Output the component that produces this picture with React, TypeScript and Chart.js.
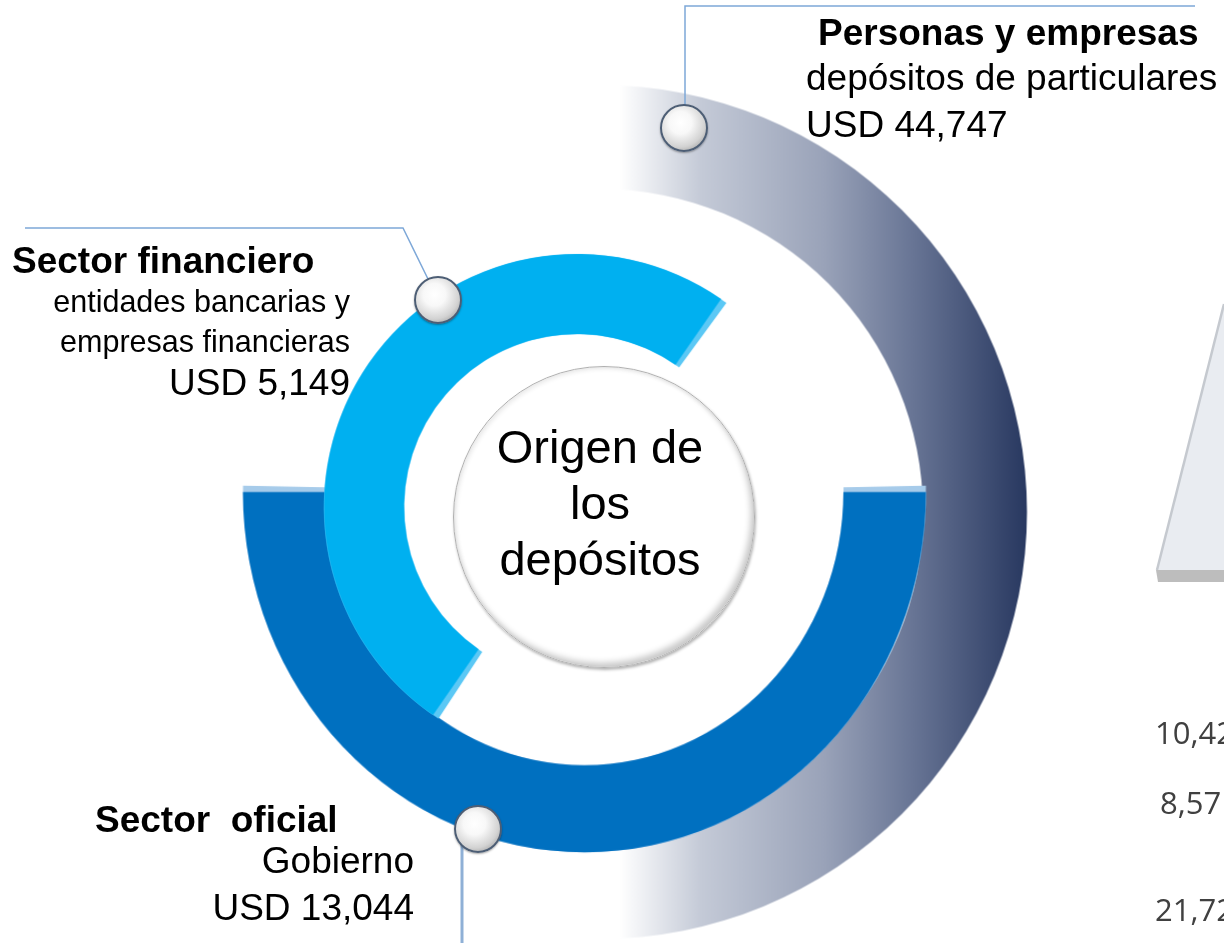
import React, { useEffect, useRef } from "react";
import { Chart, registerables } from "chart.js";

Chart.register(...registerables);

// ---------- data ----------
const sectorNames = ["Personas y empresas", "Sector financiero", "Sector  oficial"];
const sectorDescriptions = [
  ["depósitos de particulares"],
  ["entidades bancarias y", "empresas financieras"],
  ["Gobierno"],
];
const depositsUSD = [44747, 5149, 13044];
const centerTitle = ["Origen de", "los", "depósitos"];
const sideValues = ["10,42", "8,57", "21,72"];

const W = 1224;
const H = 943;

const fmtUSD = (v: number) => "USD " + v.toLocaleString("en-US");

type RingProps = {
  label: string;
  value: number;
  color: string | ((ctx: CanvasRenderingContext2D, ex: number) => CanvasGradient);
  cx: number;
  cy: number;
  rOut: number;
  rIn: number;
  sy: number;
  rotation: number;
  circumference: number;
  z: number;
};

function Ring(p: RingProps) {
  const ref = useRef<HTMLCanvasElement | null>(null);
  useEffect(() => {
    const canvas = ref.current!;
    const cutout = (p.rIn / p.rOut) * 100 + "%";
    const chart = new Chart(canvas, {
      type: "doughnut",
      data: {
        labels: [p.label],
        datasets: [
          {
            data: [p.value],
            backgroundColor: typeof p.color === "string" ? p.color : "#8890a8",
            borderWidth: 0,
            rotation: p.rotation,
            circumference: p.circumference,
            radius: p.rOut,
            cutout,
            clip: false,
          } as any,
        ],
      },
      options: {
        responsive: false,
        maintainAspectRatio: false,
        animation: false,
        devicePixelRatio: 1,
        events: [],
        rotation: p.rotation,
        circumference: p.circumference,
        radius: p.rOut,
        cutout,
        layout: { padding: 0 },
        plugins: { legend: { display: false }, tooltip: { enabled: false } },
      } as any,
    });
    const arc: any = chart.getDatasetMeta(0).data[0];
    const ex = arc.x;
    const ey = arc.y;
    canvas.style.transformOrigin = "0 0";
    canvas.style.transform = `translate(${p.cx - ex}px, ${p.cy - p.sy * ey}px) scale(1, ${p.sy})`;
    if (typeof p.color === "function") {
      (chart.data.datasets[0] as any).backgroundColor = p.color(chart.ctx, ex);
      chart.update();
    }
    return () => chart.destroy();
  }, []);
  return (
    <canvas
      ref={ref}
      width={W}
      height={H}
      style={{ position: "absolute", left: 0, top: 0, zIndex: p.z }}
    />
  );
}

type TextProps = {
  text: string;
  x: number;
  baseline: number;
  size: number;
  bold?: boolean;
  align: "left" | "right" | "center";
  font?: string;
  asc?: number;
  desc?: number;
  color?: string;
};

function Txt(t: TextProps) {
  const asc = t.asc ?? 0.905;
  const desc = t.desc ?? 0.212;
  const off = ((1 - (asc + desc)) / 2 + asc) * t.size;
  const style: any = {
    position: "absolute",
    top: t.baseline - off,
    fontSize: t.size,
    lineHeight: `${t.size}px`,
    fontWeight: t.bold ? 700 : 400,
    whiteSpace: "pre",
    color: t.color ?? "#000",
    fontFamily: t.font ?? "'Liberation Sans', Arial, sans-serif",
    zIndex: 20,
  };
  if (t.align === "left") style.left = t.x;
  else if (t.align === "right") {
    style.right = W - t.x;
    style.textAlign = "right";
  } else {
    style.left = t.x - 400;
    style.width = 800;
    style.textAlign = "center";
  }
  return <div style={style}>{t.text}</div>;
}

function Ball({ x, y, r }: { x: number; y: number; r: number }) {
  return (
    <div
      style={{
        position: "absolute",
        left: x - r,
        top: y - r,
        width: 2 * r,
        height: 2 * r,
        boxSizing: "border-box",
        borderRadius: "50%",
        border: "2.5px solid #4d5e75",
        background:
          "radial-gradient(circle at 42% 38%, #ffffff 0%, #f8f8f8 30%, #d2d2d2 65%, #808080 100%)",
        boxShadow: "0 1px 2px rgba(0,0,0,0.35)",
        zIndex: 15,
      }}
    />
  );
}

const grayGradient = (ctx: CanvasRenderingContext2D, ex: number) => {
  const g = ctx.createLinearGradient(ex + 20, 0, ex + 427, 0);
  g.addColorStop(0, "#ffffff");
  g.addColorStop(0.2, "#c4cad7");
  g.addColorStop(0.5, "#9aa3b9");
  g.addColorStop(0.72, "#687595");
  g.addColorStop(1, "#283860");
  return g;
};

export default function App() {
  return (
    <div
      style={{
        position: "absolute",
        left: 0,
        top: 0,
        width: W,
        height: H,
        overflow: "hidden",
        background: "#ffffff",
      }}
    >
      {/* outer ring: Personas y empresas */}
      <Ring label={sectorNames[0]} value={depositsUSD[0]} color={grayGradient}
        cx={600} cy={512} rOut={427} rIn={323} sy={1} rotation={0} circumference={180} z={1} />
      {/* middle ring: Sector oficial */}
      <Ring label={sectorNames[2]} value={depositsUSD[2]} color="#a6cbea"
        cx={584.5} cy={492} rOut={341.5} rIn={259} sy={1.055} rotation={89} circumference={182} z={2} />
      <Ring label={sectorNames[2]} value={depositsUSD[2]} color="#0070c0"
        cx={584.5} cy={492} rOut={341.5} rIn={259} sy={1.055} rotation={90} circumference={180} z={3} />
      {/* inner ring: Sector financiero */}
      <Ring label={sectorNames[1]} value={depositsUSD[1]} color="#5bc8f5"
        cx={577} cy={507} rOut={253} rIn={173} sy={1} rotation={213.2} circumference={183} z={4} />
      <Ring label={sectorNames[1]} value={depositsUSD[1]} color="#00b0f0"
        cx={577} cy={507} rOut={253} rIn={173} sy={1} rotation={214.7} circumference={180} z={5} />

      {/* center disc */}
      <div
        style={{
          position: "absolute",
          left: 604 - 151,
          top: 517 - 151,
          width: 302,
          height: 302,
          boxSizing: "border-box",
          borderRadius: "50%",
          border: "1px solid #b0b0b0",
          background:
            "radial-gradient(circle at 48% 46%, #ffffff 0%, #ffffff 76%, #eeeeee 86%, #cccccc 94%, #999999 100%)",
          boxShadow:
            "inset -3px -4px 6px rgba(0,0,0,0.22), inset 2px 2px 4px rgba(0,0,0,0.08), 1px 2px 3px rgba(0,0,0,0.3)",
          zIndex: 10,
        }}
      />
      {centerTitle.map((t, i) => (
        <Txt key={"c" + i} text={t} x={600} baseline={463 + i * 56} size={47} align="center" />
      ))}

      {/* connector lines */}
      <svg width={W} height={H} style={{ position: "absolute", left: 0, top: 0, zIndex: 12 }}>
        <polyline points="1195,6 685,6 685,106" fill="none" stroke="#7ea8d8" strokeWidth={1.5} />
        <polyline points="25,228 403,228 428,279" fill="none" stroke="#7ea8d8" strokeWidth={1.5} />
        <line x1={462} y1={845} x2={462} y2={943} stroke="#8fb0d6" strokeWidth={3} />
        {/* partial shape at right edge */}
        <polygon points="1157,570 1224,305 1224,570" fill="#e9ecf1" />
        <line x1={1157} y1={570} x2={1224} y2={304} stroke="#c5c9cf" strokeWidth={2.5} />
        <polygon points="1156,570 1224,570 1224,582 1158,582" fill="#bdbdbd" />
      </svg>

      <Ball x={684} y={128} r={24} />
      <Ball x={438} y={300} r={24} />
      <Ball x={478} y={829} r={24} />

      {/* Personas y empresas */}
      <Txt text={sectorNames[0]} x={818} baseline={45} size={37} bold align="left" />
      <Txt text={sectorDescriptions[0][0]} x={806} baseline={90} size={37} align="left" />
      <Txt text={fmtUSD(depositsUSD[0])} x={806} baseline={137} size={37} align="left" />

      {/* Sector financiero */}
      <Txt text={sectorNames[1]} x={12} baseline={273} size={37} bold align="left" />
      <Txt text={sectorDescriptions[1][0]} x={350} baseline={312} size={30.5} align="right" />
      <Txt text={sectorDescriptions[1][1]} x={350} baseline={352} size={30.5} align="right" />
      <Txt text={fmtUSD(depositsUSD[1])} x={350} baseline={395} size={37} align="right" />

      {/* Sector oficial */}
      <Txt text={sectorNames[2]} x={95} baseline={832} size={37} bold align="left" />
      <Txt text={sectorDescriptions[2][0]} x={414} baseline={873} size={37} align="right" />
      <Txt text={fmtUSD(depositsUSD[2])} x={414} baseline={920} size={37} align="right" />

      {/* clipped values at right edge */}
      {sideValues.map((v, i) => (
        <Txt key={"s" + i} text={v} x={i === 1 ? 1160 : 1155} baseline={[745, 815, 922][i]}
          size={31} align="left" font="'Open Sans', sans-serif" asc={1.069} desc={0.293} color="#404040" />
      ))}
    </div>
  );
}
